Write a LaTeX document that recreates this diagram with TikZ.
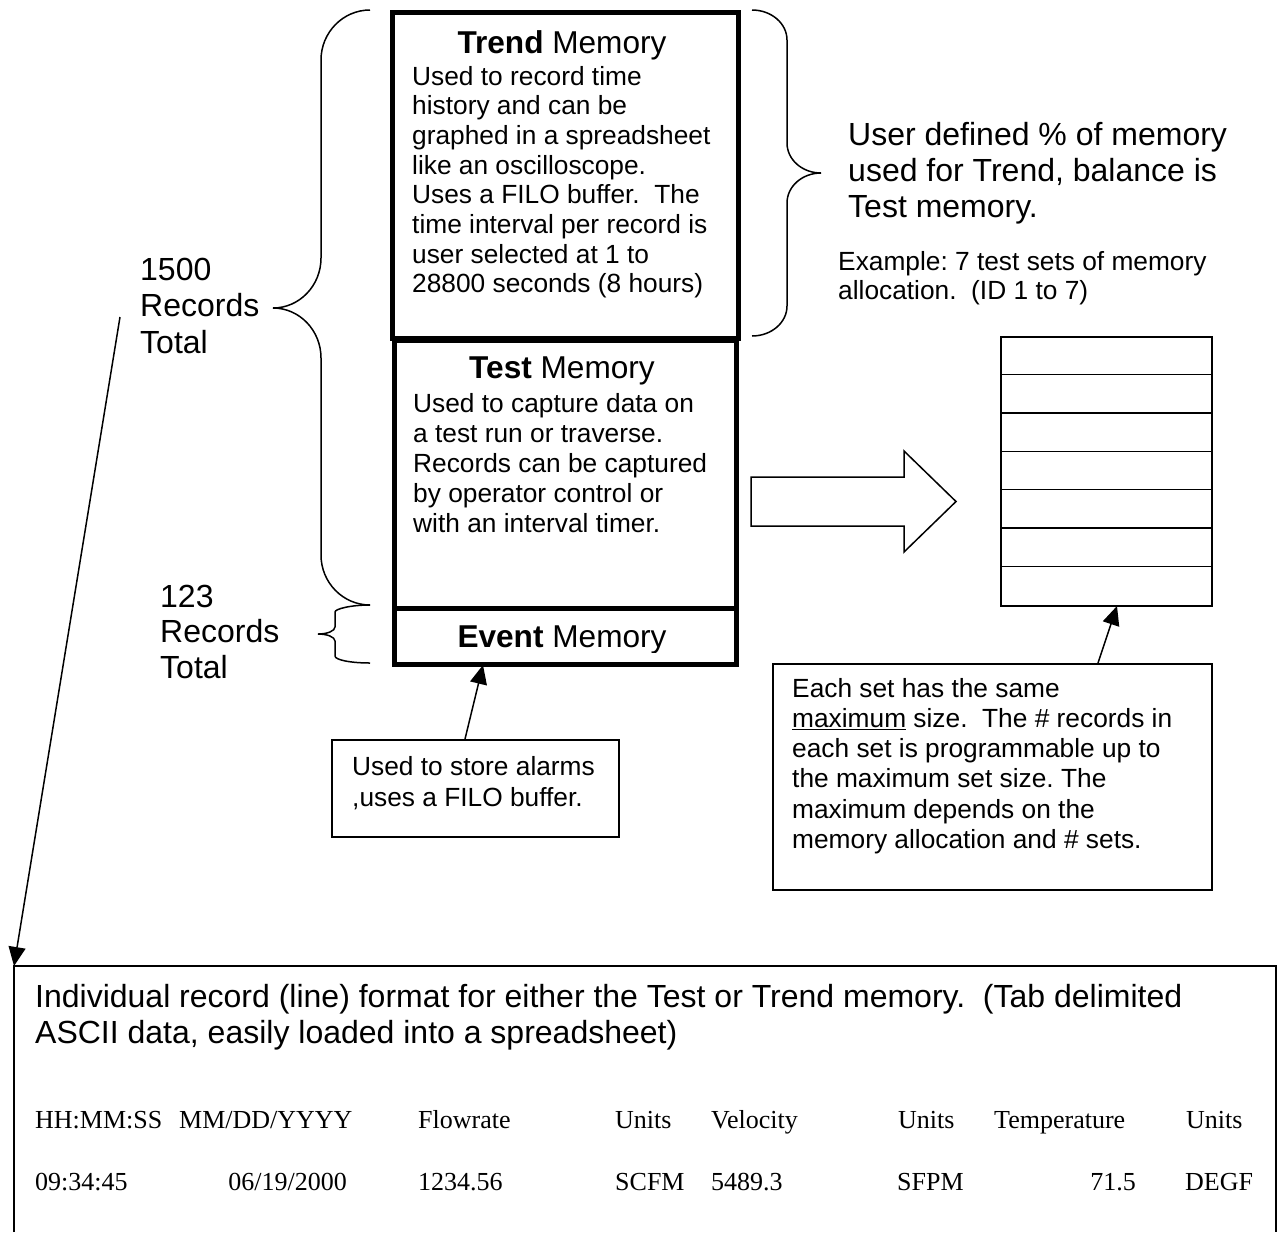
\documentclass[tikz,border=0pt]{standalone}
\usepackage{fontspec}
\setmainfont{Liberation Sans}
\newfontfamily\tnr{Liberation Serif}
\usetikzlibrary{arrows.meta}
\frenchspacing
\begin{document}
\begin{tikzpicture}[x=1pt,y=-1pt,
  txt/.style={inner sep=0pt, anchor=base west, font=\fontsize{26.3}{30}\selectfont},
  big/.style={inner sep=0pt, anchor=base west, font=\fontsize{32}{36}\selectfont},
  tab/.style={inner sep=0pt, anchor=base west, font=\tnr\fontsize{26}{30}\selectfont},
  tabr/.style={tab, anchor=base east},
  ttl/.style={inner sep=0pt, anchor=base, font=\fontsize{31.6}{36}\selectfont},
  membox/.style={draw, line width=5pt, anchor=north west, inner sep=0pt},
  thinbox/.style={draw, line width=1.6pt, anchor=north west, inner sep=0pt},
  brace/.style={line width=1.5pt},
  conn/.style={line width=1.5pt, -{Triangle[length=19pt,width=17pt]}},
]
\useasboundingbox (0,0) rectangle (1281,1232);

% memory column
\node[membox, minimum width=346pt, minimum height=326pt] (trend) at (389.5,9.5) {};
\node[membox, minimum width=341.5pt, minimum height=268pt] (test) at (392,337.5) {};
\node[membox, minimum width=341.5pt, minimum height=56.5pt] (event) at (392,605.5) {};

\node[ttl] (trendttl) at (562,53) {\bfseries Trend\mdseries{} Memory};
\node[txt] (tr1) at (412,85) {Used to record time};
\node[txt] (tr2) at (412,114.7) {history and can be};
\node[txt] (tr3) at (412,144.4) {graphed in a spreadsheet};
\node[txt] (tr4) at (412,174.1) {like an oscilloscope.};
\node[txt] (tr5) at (412,203.8) {Uses a FILO buffer.~ The};
\node[txt] (tr6) at (412,233.5) {time interval per record is};
\node[txt] (tr7) at (412,263.2) {user selected at 1 to};
\node[txt] (tr8) at (412,292.9) {28800 seconds (8 hours)};

\node[ttl] (testttl) at (562,378) {\bfseries Test\mdseries{} Memory};
\node[txt] (te1) at (413,412) {Used to capture data on};
\node[txt] (te2) at (413,442) {a test run or traverse.};
\node[txt] (te3) at (413,472) {Records can be captured};
\node[txt] (te4) at (413,502) {by operator control or};
\node[txt] (te5) at (413,532) {with an interval timer.};

\begin{scope}
\clip (392,608) rectangle (733,652);
\node[ttl] (eventttl) at (562,647) {\bfseries Event\mdseries{} Memory};
\end{scope}

% braces
\draw[brace] (370,10) .. controls (343,10) and (321,32.4) .. (321,60) -- (321,258)
  .. controls (321,285.6) and (299.5,308) .. (273,308)
  .. controls (299.5,308) and (321,330.4) .. (321,358) -- (321,555)
  .. controls (321,582.6) and (343,605) .. (370,605);
\draw[brace] (752,10) .. controls (771.3,10) and (787,23.4) .. (787,40) -- (787,143)
  .. controls (787,159.6) and (802.2,173) .. (821,173)
  .. controls (802.2,173) and (787,186.4) .. (787,203) -- (787,306)
  .. controls (787,322.6) and (771.3,336) .. (752,336);
\draw[brace] (370,605) .. controls (350.7,605) and (335,608.9) .. (335,612) -- (335,627)
  .. controls (335,630.9) and (327.4,634) .. (318,634)
  .. controls (327.4,634) and (335,637.1) .. (335,641) -- (335,656)
  .. controls (335,659.9) and (350.7,663) .. (370,663);

% left labels
\node[big] (r1a) at (140,280) {1500};
\node[big] (r1b) at (140,316) {Records};
\node[big] (r1c) at (140,353) {Total};
\node[big] (r2a) at (160,607) {123};
\node[big] (r2b) at (160,642) {Records};
\node[big] (r2c) at (160,678) {Total};

% right texts
\node[big] (u1) at (848,145) {User defined \% of memory};
\node[big] (u2) at (848,181) {used for Trend, balance is};
\node[big] (u3) at (848,217) {Test memory.};
\node[txt] (ex1) at (838,270) {Example: 7 test sets of memory};
\node[txt] (ex2) at (838,299) {allocation.~ (ID 1 to 7)};

% hollow arrow
\draw[line width=1.5pt] (751,477) -- (904,477) -- (904,451) -- (956,501.5)
  -- (904,552) -- (904,526) -- (751,526) -- cycle;

% stack of sets
\node[thinbox, minimum width=211pt, minimum height=269pt] (stack) at (1000,336) {};
\foreach \yy in {374.4,412.9,451.3,489.7,528.1,566.6}
  \draw[line width=1.5pt] (1000,\yy) -- (1211,\yy);

% description boxes
\node[thinbox, minimum width=439pt, minimum height=226pt] (desc) at (772,663) {};
\node[txt] (d1) at (792,697) {Each set has the same};
\node[txt] (d2) at (792,727.5) {\underline{maximum} size.~ The \# records in};
\node[txt] (d3) at (792,757.5) {each set is programmable up to};
\node[txt] (d4) at (792,787.5) {the maximum set size. The};
\node[txt] (d5) at (792,818) {maximum depends on the};
\node[txt] (d6) at (792,848) {memory allocation and \# sets.};

\node[thinbox, minimum width=287pt, minimum height=97pt] (evdesc) at (331,739) {};
\node[txt] (ed1) at (352,775) {Used to store alarms};
\node[txt] (ed2) at (352,806.5) {,uses a FILO buffer.};

% record format box
\coordinate (recnw) at (14,966);
\coordinate (recne) at (1276,966);
\draw[line width=1.6pt] (14,1232) -- (recnw) -- (recne) -- (1276,1232);
\node[big] (rf1) at (35,1007) {Individual record (line) format for either the Test or Trend memory.~ (Tab delimited};
\node[big] (rf2) at (35,1043) {ASCII data, easily loaded into a spreadsheet)};

\node[tab] (h1) at (35,1128) {HH:MM:SS};
\node[tab] (h2) at (179,1128) {MM/DD/YYYY};
\node[tab] (h3) at (418,1128) {Flowrate};
\node[tab] (h4) at (615,1128) {Units};
\node[tab] (h5) at (711,1128) {Velocity};
\node[tab] (h6) at (898,1128) {Units};
\node[tab] (h7) at (994,1128) {Temperature};
\node[tab] (h8) at (1186,1128) {Units};

\node[tab] (v1) at (35,1190) {09:34:45};
\node[tabr] (v2) at (347,1190) {06/19/2000};
\node[tab] (v3) at (418,1190) {1234.56};
\node[tab] (v4) at (615,1190) {SCFM};
\node[tab] (v5) at (711,1190) {5489.3};
\node[tab] (v6) at (897,1190) {SFPM};
\node[tabr] (v7) at (1136,1190) {71.5};
\node[tab] (v8) at (1185,1190) {DEGF};

% connectors
\coordinate (recstart) at (120,317);
\draw[conn] (recstart) -- (recnw);
\coordinate (evstart) at (465,739);
\coordinate (evtip) at (483,665);
\draw[conn] (evstart) -- (evtip);
\coordinate (dstart) at (1098,663);
\coordinate (dtip) at (1117,606);
\draw[conn] (dstart) -- (dtip);
\end{tikzpicture}
\end{document}
